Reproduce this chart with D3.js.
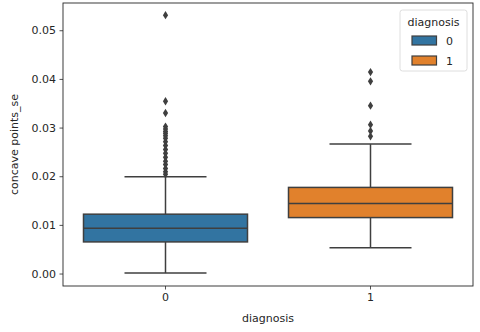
<!DOCTYPE html>
<html>
<head>
<meta charset="utf-8">
<script src="https://cdn.jsdelivr.net/npm/d3@7"></script>
<style>
  body { margin: 0; background: #fff; }
  text { font-family: "DejaVu Sans", sans-serif; fill: #262626; }
</style>
</head>
<body>
<div class="visual-data"></div>
<script>
const width = 480;
const height = 332;
const margin = {top: 3, right: 7, bottom: 46, left: 63};

// box stats
const categories = ["0", "1"];
const colors = ["#3274a1", "#e1812c"];
const whiskerLow = [0.0001, 0.0053];
const q1 = [0.0065, 0.0115];
const median = [0.0093, 0.0144];
const q3 = [0.0122, 0.0177];
const whiskerHigh = [0.0199, 0.0266];
const outliers0 = [0.0531, 0.0354, 0.0330, 0.0302, 0.0297, 0.0292, 0.0288, 0.0283, 0.0278,
                   0.0271, 0.0263, 0.0255, 0.0247, 0.0239, 0.0231, 0.0224, 0.0216, 0.0209, 0.0204];
const outliers1 = [0.0414, 0.0395, 0.0345, 0.0306, 0.0293, 0.0282];
const outliers = [outliers0, outliers1];
const yTicks = [0, 0.01, 0.02, 0.03, 0.04, 0.05];

var svg = d3.select(".visual-data")
            .append("svg")
            .attr("width", width)
            .attr("height", height);

const xScale = d3.scaleBand()
                 .domain(categories)
                 .range([margin.left, width - margin.right]);
const yScale = d3.scaleLinear()
                 .domain([-0.00256, 0.0556])
                 .range([height - margin.bottom, margin.top]);

const bw = xScale.bandwidth() * 0.8;
const lineCol = "#3f3f3f";

//axes
const xAxis = d3.axisBottom(xScale).tickSizeOuter(0).tickSize(3.5).tickPadding(3.5);
const yAxis = d3.axisLeft(yScale).tickValues(yTicks).tickFormat(d3.format(".2f"))
                .tickSizeOuter(0).tickSize(3.5).tickPadding(3.5);

var gx = svg.append("g")
   .attr("transform", "translate(0," + (height - margin.bottom) + ")")
   .call(xAxis);
var gy = svg.append("g")
   .attr("transform", "translate(" + margin.left + ",0)")
   .call(yAxis);
[gx, gy].forEach(g => {
  g.select(".domain").remove();
  g.selectAll("line").attr("stroke", "#262626").attr("stroke-width", 0.8);
  g.selectAll("text").style("font-size", "11px").style("font-family", "DejaVu Sans, sans-serif").attr("fill", "#262626");
});

//frame
svg.append("rect")
   .attr("x", margin.left)
   .attr("y", margin.top)
   .attr("width", width - margin.left - margin.right)
   .attr("height", height - margin.top - margin.bottom)
   .attr("fill", "none")
   .attr("stroke", "#262626")
   .attr("stroke-width", 0.9);

//boxes
categories.forEach((c, i) => {
  const cx = xScale(c) + xScale.bandwidth() / 2;
  const g = svg.append("g");
  g.append("line")
   .attr("x1", cx).attr("x2", cx)
   .attr("y1", yScale(whiskerLow[i])).attr("y2", yScale(q1[i]))
   .attr("stroke", lineCol).attr("stroke-width", 1.5);
  g.append("line")
   .attr("x1", cx).attr("x2", cx)
   .attr("y1", yScale(q3[i])).attr("y2", yScale(whiskerHigh[i]))
   .attr("stroke", lineCol).attr("stroke-width", 1.5);
  [whiskerLow[i], whiskerHigh[i]].forEach(v => {
    g.append("line")
     .attr("x1", cx - bw / 4).attr("x2", cx + bw / 4)
     .attr("y1", yScale(v)).attr("y2", yScale(v))
     .attr("stroke", lineCol).attr("stroke-width", 1.5);
  });
  g.append("rect")
   .attr("x", cx - bw / 2)
   .attr("y", yScale(q3[i]))
   .attr("width", bw)
   .attr("height", yScale(q1[i]) - yScale(q3[i]))
   .attr("fill", colors[i])
   .attr("stroke", lineCol).attr("stroke-width", 1.5);
  g.append("line")
   .attr("x1", cx - bw / 2).attr("x2", cx + bw / 2)
   .attr("y1", yScale(median[i])).attr("y2", yScale(median[i]))
   .attr("stroke", lineCol).attr("stroke-width", 1.5);
  g.selectAll(".flier")
   .data(outliers[i])
   .enter()
   .append("path")
   .attr("d", "M0,-4.2L2.6,0L0,4.2L-2.6,0Z")
   .attr("transform", d => "translate(" + cx + "," + yScale(d) + ")")
   .attr("fill", lineCol);
});

//axis titles
svg.append("text")
   .attr("x", margin.left + (width - margin.left - margin.right) / 2)
   .attr("y", height - 10)
   .attr("text-anchor", "middle")
   .style("font-size", "11px")
   .text("diagnosis");
svg.append("text")
   .attr("transform", "translate(18," + (margin.top + (height - margin.top - margin.bottom) / 2) + ") rotate(-90)")
   .attr("text-anchor", "middle")
   .style("font-size", "11px")
   .text("concave points_se");

//legend
var legend = svg.append("g");
legend.append("rect")
      .attr("x", 400).attr("y", 10)
      .attr("width", 67).attr("height", 61)
      .attr("rx", 2.5)
      .attr("fill", "#fff").attr("fill-opacity", 0.8)
      .attr("stroke", "#d6d6d6").attr("stroke-width", 0.8);
legend.append("text")
      .attr("x", 433.5).attr("y", 25.5)
      .attr("text-anchor", "middle")
      .style("font-size", "11px")
      .text("diagnosis");
categories.forEach((c, i) => {
  legend.append("rect")
        .attr("x", 412).attr("y", 36 + i * 20)
        .attr("width", 24.5).attr("height", 9)
        .attr("fill", colors[i])
        .attr("stroke", lineCol).attr("stroke-width", 1.2);
  legend.append("text")
        .attr("x", 446).attr("y", 44.5 + i * 20)
        .style("font-size", "11px")
        .text(c);
});
</script>
</body>
</html>
